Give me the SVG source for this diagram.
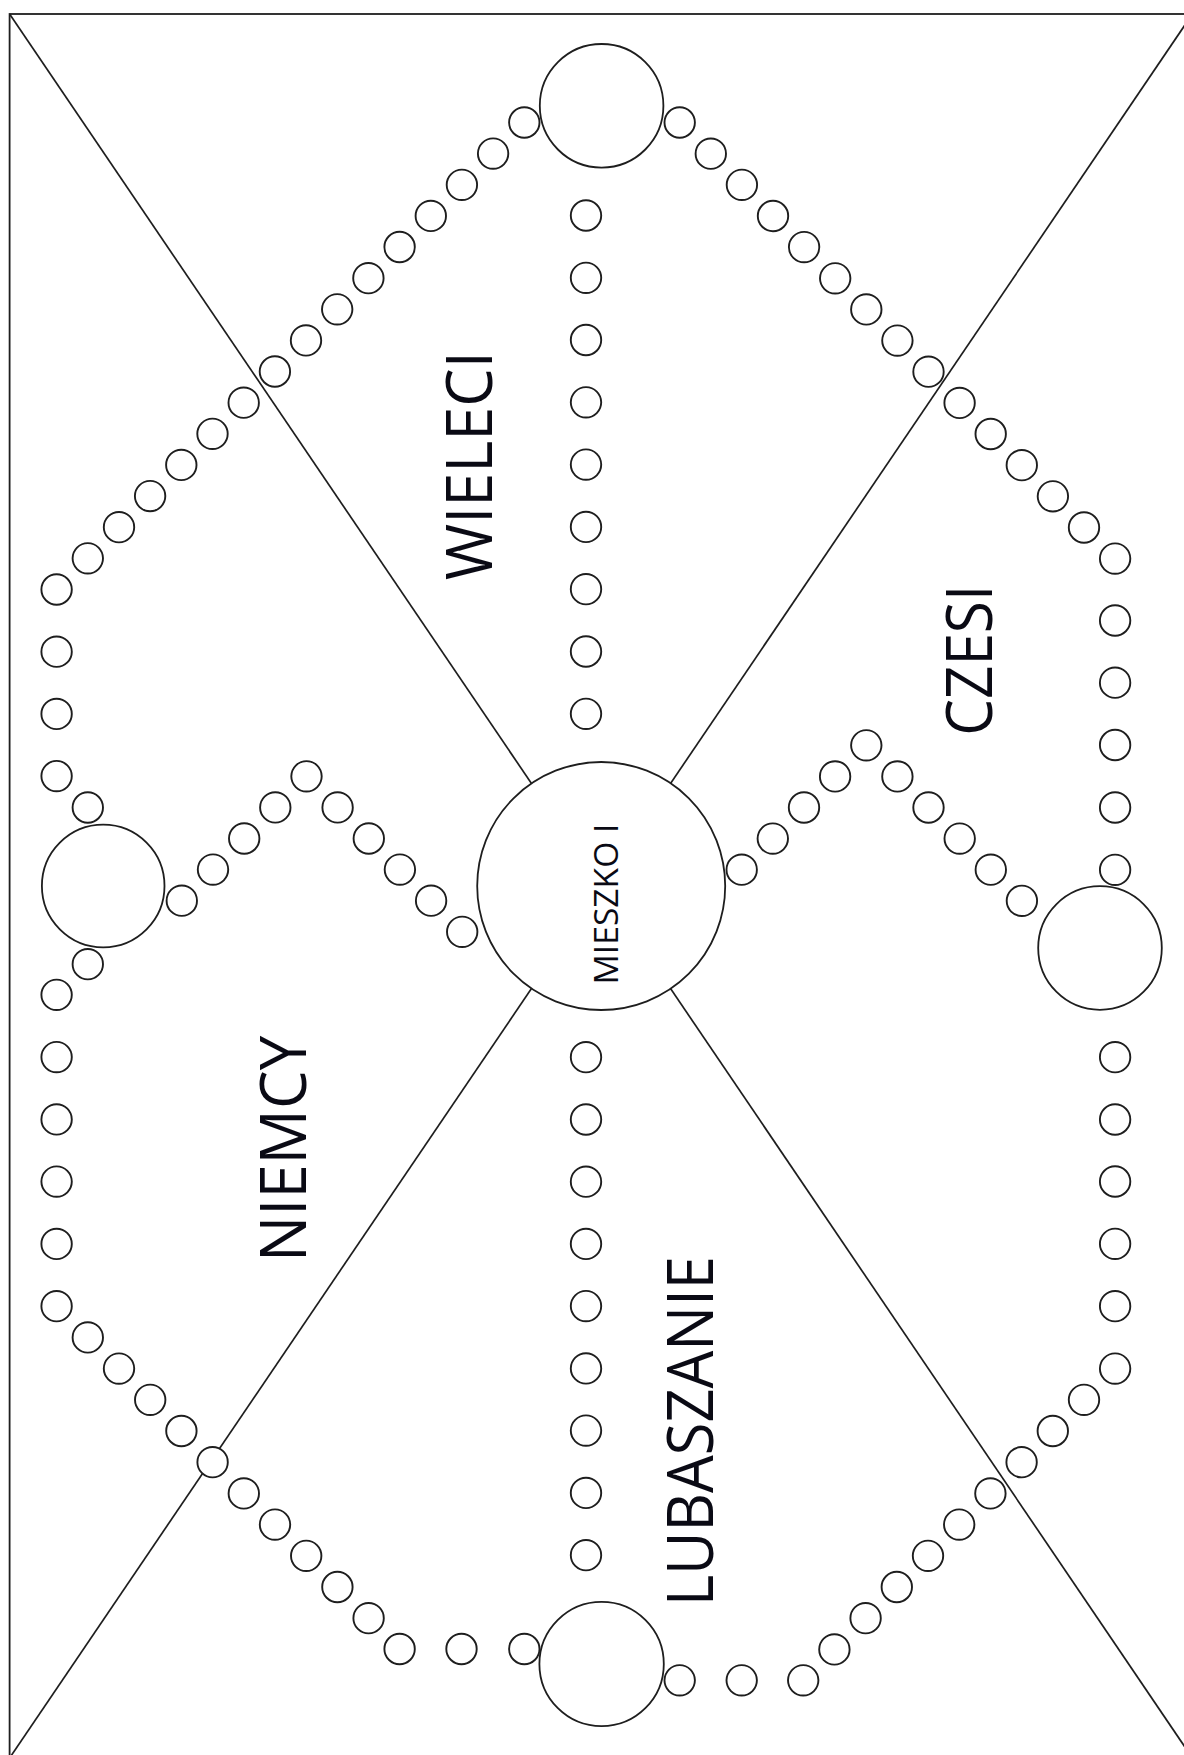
<svg xmlns="http://www.w3.org/2000/svg" width="1184" height="1755" viewBox="0 0 1184 1755">
<style>
.frame{fill:none;stroke:#1e1e1e;stroke-width:1.8}
.ln{stroke:#1e1e1e;stroke-width:1.7;fill:none}
.big{fill:#fff;stroke:#1e1e1e;stroke-width:1.8}
.dot{fill:#fff;stroke:#1e1e1e;stroke-width:1.9}
.lbl{font-family:"Open Sans","DejaVu Sans",sans-serif;font-size:64px;fill:#0a0a14;text-anchor:middle}
.lbls{font-family:"Open Sans","DejaVu Sans",sans-serif;font-size:32px;fill:#0a0a14;text-anchor:middle}
</style>
<defs>
<circle id="d" r="15.2"/>
</defs>
<rect width="1184" height="1755" fill="#fff"/>
<rect class="frame" x="9.6" y="14" width="1182.8" height="1744"/>
<g id="connectors">
<line class="ln" x1="9.6" y1="14" x2="1192.4" y2="1758"/>
<line class="ln" x1="9.6" y1="1758" x2="1192.4" y2="14"/>
</g>
<g id="chain-top-left" class="dot">
<use href="#d" x="524.3" y="122.5"/><use href="#d" x="493.1" y="153.6"/><use href="#d" x="461.9" y="184.8"/><use href="#d" x="430.8" y="215.9"/><use href="#d" x="399.6" y="247.0"/><use href="#d" x="368.4" y="278.2"/><use href="#d" x="337.2" y="309.3"/><use href="#d" x="306.0" y="340.4"/><use href="#d" x="274.9" y="371.5"/><use href="#d" x="243.7" y="402.7"/><use href="#d" x="212.5" y="433.8"/><use href="#d" x="181.3" y="464.9"/><use href="#d" x="150.1" y="496.1"/><use href="#d" x="119.0" y="527.2"/><use href="#d" x="87.8" y="558.3"/><use href="#d" x="56.6" y="589.5"/>
<use href="#d" x="56.6" y="651.7"/><use href="#d" x="56.6" y="713.9"/><use href="#d" x="56.6" y="776.1"/><use href="#d" x="87.8" y="807.5"/>
</g>
<g id="chain-bottom-left" class="dot">
<use href="#d" x="87.8" y="964.2"/><use href="#d" x="56.6" y="994.8"/><use href="#d" x="56.6" y="1057.1"/><use href="#d" x="56.6" y="1119.4"/><use href="#d" x="56.6" y="1181.6"/><use href="#d" x="56.6" y="1243.9"/><use href="#d" x="56.6" y="1306.2"/>
<use href="#d" x="87.8" y="1337.4"/><use href="#d" x="119.0" y="1368.6"/><use href="#d" x="150.2" y="1399.8"/><use href="#d" x="181.4" y="1431.0"/><use href="#d" x="212.6" y="1462.2"/><use href="#d" x="243.8" y="1493.4"/><use href="#d" x="275.0" y="1524.6"/><use href="#d" x="306.2" y="1555.8"/><use href="#d" x="337.4" y="1587.0"/><use href="#d" x="368.6" y="1618.2"/><use href="#d" x="399.6" y="1649.0"/><use href="#d" x="461.5" y="1649.0"/><use href="#d" x="524.3" y="1649.0"/>
</g>
<g id="chain-top-right" class="dot">
<use href="#d" x="679.7" y="122.5"/><use href="#d" x="710.8" y="153.7"/><use href="#d" x="741.9" y="184.8"/><use href="#d" x="773.0" y="216.0"/><use href="#d" x="804.1" y="247.1"/><use href="#d" x="835.2" y="278.3"/><use href="#d" x="866.3" y="309.4"/><use href="#d" x="897.4" y="340.6"/><use href="#d" x="928.5" y="371.7"/><use href="#d" x="959.6" y="402.9"/><use href="#d" x="990.7" y="434.0"/><use href="#d" x="1021.8" y="465.2"/><use href="#d" x="1052.9" y="496.3"/><use href="#d" x="1084.0" y="527.5"/><use href="#d" x="1115.1" y="558.6"/>
<use href="#d" x="1115.1" y="620.5"/><use href="#d" x="1115.1" y="682.7"/><use href="#d" x="1115.1" y="745.0"/><use href="#d" x="1115.1" y="807.5"/><use href="#d" x="1115.1" y="869.8"/>
</g>
<g id="chain-bottom-right" class="dot">
<use href="#d" x="1115.1" y="1057.2"/><use href="#d" x="1115.1" y="1119.5"/><use href="#d" x="1115.1" y="1181.5"/><use href="#d" x="1115.1" y="1243.8"/><use href="#d" x="1115.1" y="1306.2"/><use href="#d" x="1115.1" y="1368.6"/>
<use href="#d" x="1084.0" y="1399.8"/><use href="#d" x="1052.8" y="1431.0"/><use href="#d" x="1021.6" y="1462.2"/><use href="#d" x="990.4" y="1493.4"/><use href="#d" x="959.2" y="1524.6"/><use href="#d" x="928.0" y="1555.8"/><use href="#d" x="896.8" y="1587.0"/><use href="#d" x="865.6" y="1618.2"/><use href="#d" x="834.4" y="1649.4"/><use href="#d" x="803.2" y="1680.3"/><use href="#d" x="741.7" y="1680.3"/><use href="#d" x="679.7" y="1680.3"/>
</g>
<g id="column-top" class="dot">
<use href="#d" x="586" y="215.5"/><use href="#d" x="586" y="277.8"/><use href="#d" x="586" y="340.0"/><use href="#d" x="586" y="402.3"/><use href="#d" x="586" y="464.6"/><use href="#d" x="586" y="526.9"/><use href="#d" x="586" y="589.2"/><use href="#d" x="586" y="651.5"/><use href="#d" x="586" y="713.8"/>
</g>
<g id="column-bottom" class="dot">
<use href="#d" x="586" y="1057.2"/><use href="#d" x="586" y="1119.5"/><use href="#d" x="586" y="1181.7"/><use href="#d" x="586" y="1243.9"/><use href="#d" x="586" y="1306.1"/><use href="#d" x="586" y="1368.4"/><use href="#d" x="586" y="1430.6"/><use href="#d" x="586" y="1492.9"/><use href="#d" x="586" y="1555.2"/>
</g>
<g id="zigzag-left" class="dot">
<use href="#d" x="181.8" y="900.7"/><use href="#d" x="213.0" y="869.6"/><use href="#d" x="244.2" y="838.5"/><use href="#d" x="275.3" y="807.4"/><use href="#d" x="306.5" y="776.3"/><use href="#d" x="337.6" y="807.4"/><use href="#d" x="368.8" y="838.5"/><use href="#d" x="399.9" y="869.6"/><use href="#d" x="431.1" y="900.7"/><use href="#d" x="462.2" y="931.8"/>
</g>
<g id="zigzag-right" class="dot">
<use href="#d" x="741.7" y="869.7"/><use href="#d" x="772.8" y="838.6"/><use href="#d" x="804.0" y="807.5"/><use href="#d" x="835.1" y="776.4"/><use href="#d" x="866.3" y="745.3"/><use href="#d" x="897.4" y="776.4"/><use href="#d" x="928.5" y="807.5"/><use href="#d" x="959.7" y="838.6"/><use href="#d" x="990.8" y="869.7"/><use href="#d" x="1021.9" y="900.8"/>
</g>
<g id="node-top"><circle class="big" cx="601.6" cy="105.8" r="61.8"/></g>
<g id="node-left"><circle class="big" cx="103.2" cy="886" r="61.3"/></g>
<g id="node-right"><circle class="big" cx="1100" cy="948" r="61.8"/></g>
<g id="node-bottom"><circle class="big" cx="601.6" cy="1664" r="62.2"/></g>
<g id="node-center">
<circle class="big" cx="601.2" cy="886" r="124"/>
<text class="lbls" transform="translate(618.3 904) rotate(-90)" textLength="161" lengthAdjust="spacingAndGlyphs">MIESZKO I</text>
</g>
<g id="label-wieleci"><text class="lbl" transform="translate(492.3 465.7) rotate(-90)" textLength="229" lengthAdjust="spacingAndGlyphs">WIELECI</text></g>
<g id="label-czesi"><text class="lbl" transform="translate(991.6 660.3) rotate(-90)" textLength="151" lengthAdjust="spacingAndGlyphs">CZESI</text></g>
<g id="label-niemcy"><text class="lbl" transform="translate(306 1149) rotate(-90)" textLength="226" lengthAdjust="spacingAndGlyphs">NIEMCY</text></g>
<g id="label-lubaszanie"><text class="lbl" transform="translate(713.4 1431) rotate(-90)" textLength="350" lengthAdjust="spacingAndGlyphs">LUBASZANIE</text></g>
</svg>
